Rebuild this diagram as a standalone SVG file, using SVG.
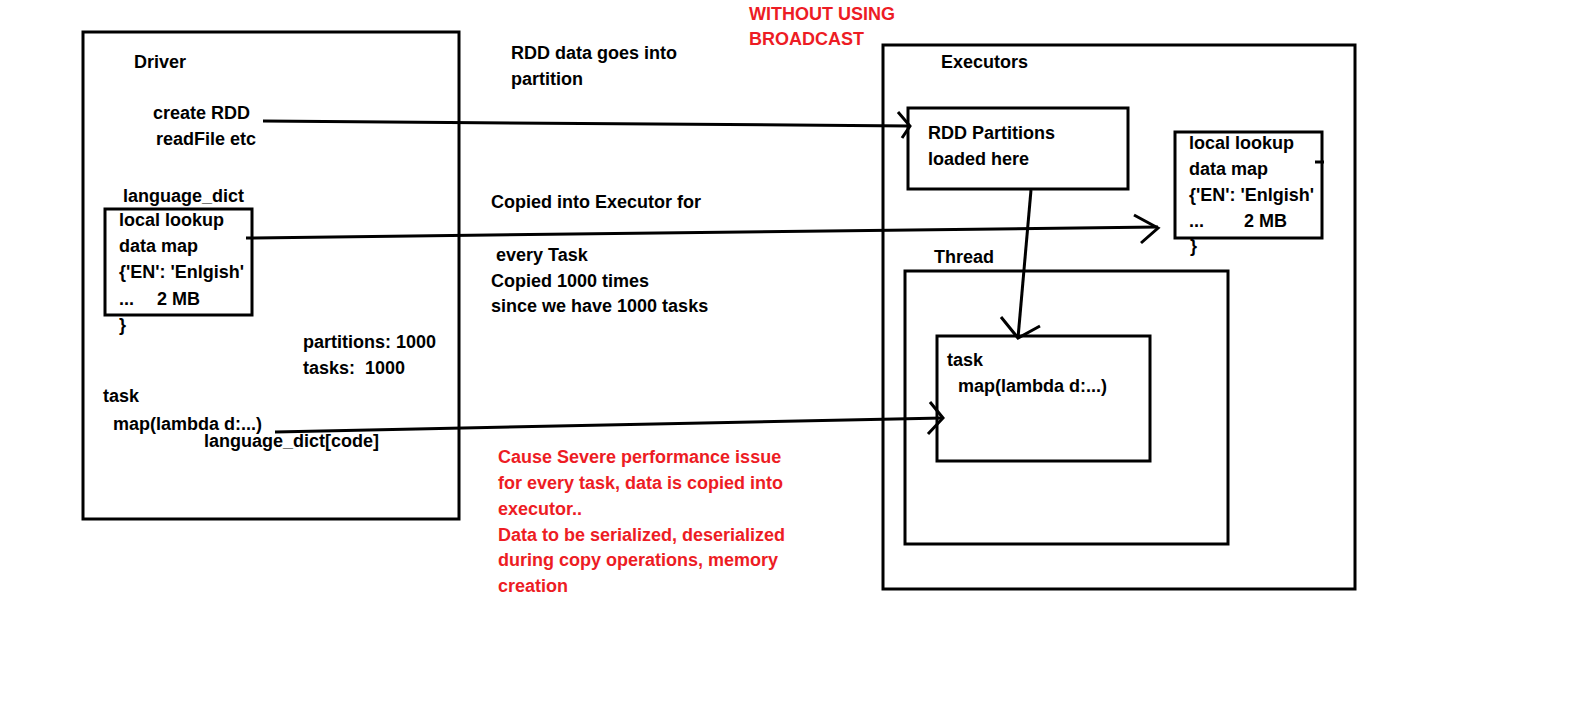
<svg xmlns="http://www.w3.org/2000/svg" width="1594" height="723" viewBox="0 0 1594 723">
<style>
text{font-family:"Liberation Sans",Arial,sans-serif;font-weight:bold;font-size:18px;fill:#000}
.red{fill:#ED1C24}
.pre{white-space:pre}
.box{fill:none;stroke:#000;stroke-width:3}
.ln{fill:none;stroke:#000;stroke-width:3;stroke-linecap:butt;stroke-linejoin:miter}
</style>
<rect width="1594" height="723" fill="#fff"/>
<g id="title">
<text class="red" x="749" y="20">WITHOUT USING</text>
<text class="red" x="749" y="45">BROADCAST</text>
</g>
<g id="driver">
<rect class="box" x="83" y="32" width="376" height="487"/>
<text x="134" y="68">Driver</text>
<text x="153" y="119">create RDD</text>
<text x="156" y="145">readFile etc</text>
<text x="123" y="202">language_dict</text>
<text x="303" y="348">partitions: 1000</text>
<text class="pre" xml:space="preserve" x="303" y="374">tasks:  1000</text>
<text x="103" y="402">task</text>
<text x="113" y="430">map(lambda d:...)</text>
<text x="204" y="447">language_dict[code]</text>
</g>
<g id="driver-lookup">
<rect class="box" x="105" y="209" width="147" height="106"/>
<text x="119" y="226">local lookup</text>
<text x="119" y="252">data map</text>
<text x="119" y="278">{'EN': 'Enlgish'</text>
<text x="119" y="305">...</text>
<text x="157" y="305">2 MB</text>
<text x="119" y="331">}</text>
</g>
<g id="middle-notes">
<text x="511" y="59">RDD data goes into</text>
<text x="511" y="85">partition</text>
<text x="491" y="208">Copied into Executor for</text>
<text x="496" y="261">every Task</text>
<text x="491" y="287">Copied 1000 times</text>
<text x="491" y="312">since we have 1000 tasks</text>
</g>
<g id="issue-note">
<text class="red" x="498" y="463">Cause Severe performance issue</text>
<text class="red" x="498" y="489">for every task, data is copied into</text>
<text class="red" x="498" y="515">executor..</text>
<text class="red" x="498" y="541">Data to be serialized, deserialized</text>
<text class="red" x="498" y="566">during copy operations, memory</text>
<text class="red" x="498" y="592">creation</text>
</g>
<g id="executors">
<rect class="box" x="883" y="45" width="472" height="544"/>
<text x="941" y="68">Executors</text>
</g>
<g id="rdd-partitions">
<rect class="box" x="908" y="108" width="220" height="81"/>
<text x="928" y="139">RDD Partitions</text>
<text x="928" y="165">loaded here</text>
</g>
<g id="executor-lookup">
<rect class="box" x="1175" y="132" width="147" height="106"/>
<line class="ln" x1="1315" y1="162" x2="1324" y2="162"/>
<text x="1189" y="149">local lookup</text>
<text x="1189" y="175">data map</text>
<text x="1189" y="201">{'EN': 'Enlgish'</text>
<text x="1189" y="227">...</text>
<text x="1244" y="227">2 MB</text>
<text x="1190" y="252">}</text>
</g>
<g id="thread">
<rect class="box" x="905" y="271" width="323" height="273"/>
<text x="934" y="263">Thread</text>
</g>
<g id="task">
<rect class="box" x="937" y="336" width="213" height="125"/>
<text x="947" y="366">task</text>
<text x="958" y="392">map(lambda d:...)</text>
</g>
<g id="connectors">
<polyline class="ln" points="263,121 910,126"/>
<polyline class="ln" points="898,112 910,126 902,138"/>
<polyline class="ln" points="246,238 1158,227"/>
<polyline class="ln" points="1134,215 1158,228 1141,243"/>
<polyline class="ln" points="1031,190 1018,338"/>
<polyline class="ln" points="1001,317 1018,338 1040,326"/>
<polyline class="ln" points="275,432 943,418"/>
<polyline class="ln" points="930,402 943,418 928,434"/>
</g>
</svg>
